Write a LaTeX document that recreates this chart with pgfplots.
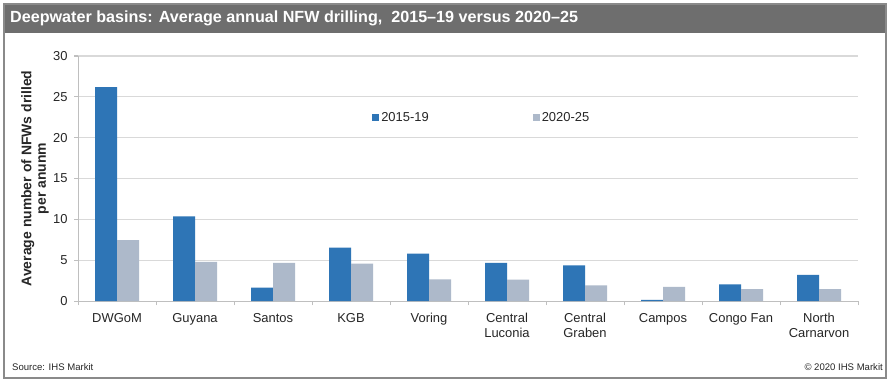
\documentclass[border=0pt]{standalone}
\usepackage{pgfplots}
\pgfplotsset{compat=1.18}
\usepackage{fontspec}
\setmainfont{Liberation Sans}
\definecolor{cblue}{HTML}{2E75B6}
\definecolor{cgray}{HTML}{ADB9CA}
\definecolor{framec}{HTML}{8A8A8A}
\definecolor{titlebar}{HTML}{6E6E6E}
\definecolor{gridc}{HTML}{D9D9D9}
\definecolor{axisc}{HTML}{BFBFBF}
\definecolor{txt}{HTML}{262626}
\begin{document}
\begin{tikzpicture}[x=1bp,y=1bp]
\path[use as bounding box] (0,0) rectangle (891,384);
\fill[white] (0,0) rectangle (891,384);
\fill[titlebar] (4,351) rectangle (886,380);
\draw[framec, line width=2bp] (4,6) rectangle (886,380);
\node[anchor=west, text=white, font=\bfseries\fontsize{16.2}{18}\selectfont, inner sep=0] at (10,366) {Deepwater basins: Average annual NFW drilling,\ \ 2015–19 versus 2020–25};
\node[anchor=west, text=txt, font=\fontsize{9.6}{11}\selectfont, inner sep=0] at (12,17) {Source: IHS Markit};
\node[anchor=east, text=txt, font=\fontsize{9.6}{11}\selectfont, inner sep=0] at (883,17) {© 2020 IHS Markit};
\begin{axis}[
  at={(78bp,83bp)}, anchor=south west,
  scale only axis, width=780bp, height=245bp,
  ybar, bar width=22bp,
  xmin=-0.5, xmax=9.5, ymin=0, ymax=30,
  xtick={0,...,9},
  xticklabels={DWGoM,Guyana,Santos,KGB,Voring,Central\\Luconia,Central\\Graben,Campos,Congo Fan,North\\Carnarvon},
  minor xtick={-0.5,0.5,...,9.5},
  ytick={0,5,...,30},
  /pgf/number format/assume math mode=true,
  axis x line*=bottom, axis y line*=left,
  axis line style={axisc, line width=1bp, -},
  x axis line style={-},
  y axis line style={-},
  ymajorgrids, grid style={gridc, line width=1bp},
  major tick length=4bp, minor tick length=4bp,
  tick align=outside,
  x tick style={draw=none},
  minor x tick style={axisc, line width=1bp, draw=axisc},
  y tick style={axisc, line width=1bp},
  tick label style={text=txt, font=\fontsize{13}{15}\selectfont},
  xticklabel style={align=center, yshift=-5bp},
  yticklabel style={xshift=-3bp},
  ylabel={Average number of NFWs drilled\\per anunm},
  ylabel style={align=center, font=\bfseries\fontsize{14}{14.5}\selectfont, text=txt, at={(axis description cs:-0.055,0.5)}, anchor=center},
  legend style={draw=none, fill=none, at={(rel axis cs:0.377,0.747)}, anchor=west, legend columns=2, font=\fontsize{13}{15}\selectfont, text=txt, inner sep=0pt, /tikz/every even column/.append style={column sep=102bp}},
  legend image code/.code={\fill[#1] (0bp,-3.5bp) rectangle (7bp,3.5bp);},
]
\addplot[fill=cblue, draw=none, bar shift=-11bp] coordinates {(0,26.2) (1,10.35) (2,1.65) (3,6.55) (4,5.8) (5,4.68) (6,4.35) (7,0.15) (8,2.05) (9,3.2)};
\addlegendentry{2015-19}
\addplot[fill=cgray, draw=none, bar shift=11bp] coordinates {(0,7.45) (1,4.8) (2,4.66) (3,4.58) (4,2.66) (5,2.63) (6,1.9) (7,1.74) (8,1.45) (9,1.45)};
\addlegendentry{2020-25}
\end{axis}
\end{tikzpicture}
\end{document}
